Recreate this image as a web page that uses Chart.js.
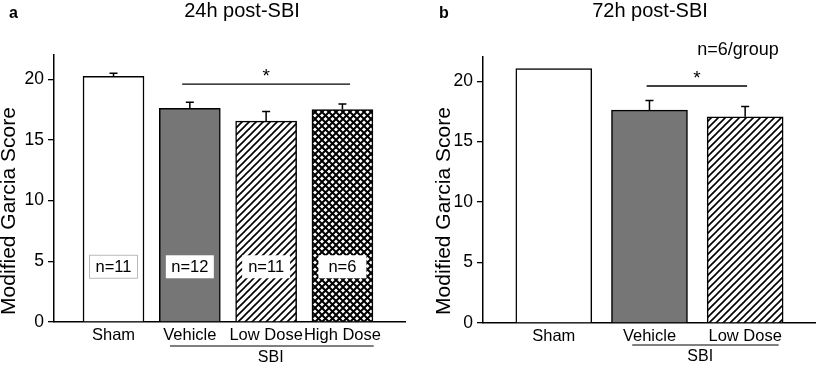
<!DOCTYPE html>
<html>
<head>
<meta charset="utf-8">
<script src="https://cdn.jsdelivr.net/npm/chart.js@4.4.1/dist/chart.umd.min.js"></script>
<style>
  body { margin: 0; background: #fff; width: 818px; height: 365px; overflow: hidden; }
  .panel { position: absolute; top: 0; }
</style>
</head>
<body>
<div class="panel" style="left:0"><canvas id="chart-a" width="409" height="365"></canvas></div>
<div class="panel" style="left:409px"><canvas id="chart-b" width="409" height="365"></canvas></div>

<script>
// DATA
const groupsA = ["Sham", "Vehicle", "Low Dose", "High Dose"];
const meansA = [20.25, 17.6, 16.55, 17.5];
const errA = [0.25, 0.5, 0.8, 0.47];
const nLabelsA = ["n=11", "n=12", "n=11", "n=6"];

const groupsB = ["Sham", "Vehicle", "Low Dose"];
const meansB = [21.05, 17.6, 17.05];
const errB = [0, 0.8, 0.85];

const yTicks = [0, 5, 10, 15, 20];
const yMax = 22;

const FONT = "'Liberation Sans', Arial, sans-serif";

/////////////////////////////////////////////////////
//  FILL PATTERNS
function makeHatch() {
  const c = document.createElement("canvas");
  c.width = 7; c.height = 7;
  const g = c.getContext("2d");
  g.fillStyle = "#fff";
  g.fillRect(0, 0, 7, 7);
  g.strokeStyle = "#000";
  g.lineWidth = 1.6;
  g.beginPath();
  g.moveTo(-1, 8); g.lineTo(8, -1);
  g.moveTo(-1, 1); g.lineTo(1, -1);
  g.moveTo(6, 8); g.lineTo(8, 6);
  g.stroke();
  return g.createPattern(c, "repeat");
}

function makeCross() {
  const c = document.createElement("canvas");
  c.width = 7; c.height = 7;
  const g = c.getContext("2d");
  g.fillStyle = "#fff";
  g.fillRect(0, 0, 7, 7);
  g.strokeStyle = "#000";
  g.lineWidth = 2;
  g.beginPath();
  g.moveTo(-1, -1); g.lineTo(8, 8);
  g.moveTo(-1, 8); g.lineTo(8, -1);
  g.stroke();
  return g.createPattern(c, "repeat");
}

const hatch = makeHatch();
const cross = makeCross();

/////////////////////////////////////////////////////
//  PLUGIN: error bars + titles + annotations
const panelDecor = {
  id: "panelDecor",
  afterDatasetsDraw(chart, args, opts) {
    const ctx = chart.ctx;
    const x = chart.scales.x;
    const y = chart.scales.y;
    const meta = chart.getDatasetMeta(0);
    const vals = chart.data.datasets[0].data;

    ctx.save();
    ctx.strokeStyle = "#000";
    ctx.lineWidth = 1.5;

    // error bars (upper only)
    meta.data.forEach((bar, i) => {
      const e = opts.errors[i];
      if (!e) return;
      const top = y.getPixelForValue(vals[i].y + e);
      ctx.beginPath();
      ctx.moveTo(bar.x, bar.y);
      ctx.lineTo(bar.x, top);
      ctx.moveTo(bar.x - 4, top);
      ctx.lineTo(bar.x + 4, top);
      ctx.stroke();
    });

    // n= boxes inside bars
    if (opts.nLabels) {
      ctx.font = "16.5px " + FONT;
      ctx.textAlign = "center";
      ctx.textBaseline = "middle";
      meta.data.forEach((bar, i) => {
        const cy = y.getPixelForValue(4.55);
        ctx.fillStyle = "#fff";
        ctx.fillRect(bar.x - 24, cy - 11.5, 48, 23);
        if (i === 0) {
          ctx.strokeStyle = "#bbb";
          ctx.lineWidth = 1;
          ctx.strokeRect(bar.x - 24, cy - 11.5, 48, 23);
        }
        ctx.fillStyle = "#000";
        ctx.fillText(opts.nLabels[i], bar.x, cy + 1);
      });
    }

    // significance line + star
    ctx.strokeStyle = "#000";
    ctx.lineWidth = 1.3;
    const sy = y.getPixelForValue(19.6);
    ctx.beginPath();
    ctx.moveTo(x.getPixelForValue(opts.sig[0]), sy);
    ctx.lineTo(x.getPixelForValue(opts.sig[1]), sy);
    ctx.stroke();
    ctx.fillStyle = "#000";
    ctx.font = "19px " + FONT;
    ctx.textAlign = "center";
    ctx.textBaseline = "middle";
    ctx.fillText("*", x.getPixelForValue((opts.sig[0] + opts.sig[1]) / 2), y.getPixelForValue(20.2));

    // SBI group bracket under the labels
    const bottom = chart.chartArea.bottom;
    ctx.lineWidth = 1;
    ctx.beginPath();
    ctx.moveTo(x.getPixelForValue(opts.group[0]), bottom + opts.groupY);
    ctx.lineTo(x.getPixelForValue(opts.group[1]), bottom + opts.groupY);
    ctx.stroke();
    ctx.font = "16px " + FONT;
    ctx.fillText("SBI", x.getPixelForValue(opts.group[2]), bottom + opts.groupY + 12);

    // y axis title (drawn by hand, sits a bit below the axis middle)
    ctx.save();
    ctx.translate(opts.yTitleX, 211);
    ctx.rotate(-Math.PI / 2);
    ctx.font = "21px " + FONT;
    ctx.fillText("Modified Garcia Score", 0, 0);
    ctx.restore();

    // panel letter + title
    ctx.font = "bold 16px " + FONT;
    ctx.textAlign = "left";
    ctx.fillText(opts.letter, opts.letterX, 14);
    ctx.font = "20px " + FONT;
    ctx.textAlign = "center";
    ctx.fillText(opts.title, opts.titleX, 11);
    if (opts.note) {
      ctx.font = "18px " + FONT;
      ctx.fillText(opts.note, opts.noteX, 50);
    }
    ctx.restore();
  }
};

// shared option builder
function barOptions(groups, xMin, xMax, yWidth, xHeight, padTop, padRight, decor) {
  return {
    responsive: false,
    animation: { duration: 0 },
    layout: { padding: { top: padTop, right: padRight, left: 0, bottom: 0 } },
    scales: {
      x: {
        type: "linear",
        offset: false,
        min: xMin,
        max: xMax,
        afterBuildTicks: (s) => { s.ticks = groups.map((g, i) => ({ value: i })); },
        afterFit: (s) => { s.height = xHeight; },
        grid: { drawOnChartArea: false, drawTicks: false },
        border: { color: "#000", width: 1.5 },
        ticks: {
          autoSkip: false,
          maxRotation: 0,
          padding: 4,
          color: "#000",
          font: { family: FONT, size: 16.5 },
          callback: (v) => groups[v]
        }
      },
      y: {
        min: 0,
        max: yMax,
        afterBuildTicks: (s) => { s.ticks = yTicks.map((v) => ({ value: v })); },
        afterFit: (s) => { s.width = yWidth; },
        grid: { drawOnChartArea: false, tickLength: 6, color: "#000", lineWidth: 1.3 },
        border: { color: "#000", width: 1.5 },
        ticks: { padding: 4, color: "#000", font: { family: FONT, size: 17.5 } }
      }
    },
    plugins: {
      legend: { display: false },
      tooltip: { enabled: false },
      panelDecor: decor
    }
  };
}

/////////////////////////////////////////////////////
//  PANEL A - 24h
let chartA = new Chart(document.getElementById("chart-a"), {
  type: "bar",
  data: {
    datasets: [{
      data: meansA.map((v, i) => ({ x: i, y: v })),
      backgroundColor: ["#fff", "#767676", hatch, cross],
      borderColor: "#000",
      borderWidth: 1.5,
      borderSkipped: "bottom",
      barThickness: 61
    }]
  },
  options: barOptions(groupsA, -0.78, 3.82, 54, 43, 55, 4, {
    errors: errA,
    nLabels: nLabelsA,
    sig: [0.9, 3.1],
    group: [0.74, 3.41, 2.06],
    groupY: 24,
    yTitleX: 9,
    letter: "a", letterX: 9,
    title: "24h post-SBI", titleX: 242
  }),
  plugins: [panelDecor]
});

/////////////////////////////////////////////////////
//  PANEL B - 72h
let chartB = new Chart(document.getElementById("chart-b"), {
  type: "bar",
  data: {
    datasets: [{
      data: meansB.map((v, i) => ({ x: i, y: v })),
      backgroundColor: ["#fff", "#767676", hatch],
      borderColor: "#000",
      borderWidth: 1.5,
      borderSkipped: "bottom",
      barThickness: 76
    }]
  },
  options: barOptions(groupsB, -0.74, 2.73, 74, 42, 57, 3, {
    errors: errB,
    sig: [0.97, 2.02],
    group: [0.82, 2.35, 1.53],
    groupY: 22,
    yTitleX: 35,
    letter: "b", letterX: 30,
    title: "72h post-SBI", titleX: 241,
    note: "n=6/group", noteX: 329
  }),
  plugins: [panelDecor]
});
</script>
</body>
</html>
